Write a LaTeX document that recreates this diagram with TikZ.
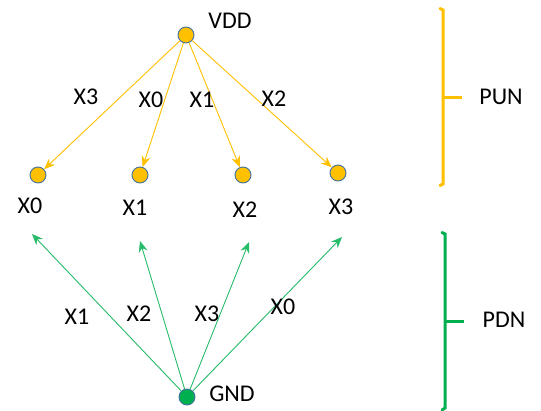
\documentclass[tikz,border=0pt]{standalone}
\usepackage{fontspec}
\setmainfont{Carlito}
\usetikzlibrary{arrows.meta}
\definecolor{punorange}{HTML}{FFC000}
\definecolor{pdngreen}{HTML}{00B050}
\definecolor{rimblue}{HTML}{41719C}
\tikzset{
  lbl/.style={font=\fontsize{24}{28}\selectfont, inner sep=0pt},
  upnode/.style={circle, draw=rimblue, line width=0.9pt, fill=punorange, minimum size=16pt, inner sep=0pt},
  gndnode/.style={circle, draw=rimblue, line width=0.9pt, fill=pdngreen, minimum size=16pt, inner sep=0pt},
  uparrow/.style={draw=punorange, line width=0.9pt, -{Stealth[length=11pt,width=9pt]}},
  dnarrow/.style={draw=pdngreen!85, line width=0.9pt, -{Stealth[length=11pt,width=9pt]}},
  pullup/.style={draw=punorange, line width=3pt},
  pulldown/.style={draw=pdngreen, line width=3pt}
}
\begin{document}
\begin{tikzpicture}[x=1pt,y=-1pt]
\fill[white] (0,0) rectangle (541,410);
\useasboundingbox (0,0) rectangle (541,410);

% supply and ground rails
\node[upnode] (vdd) at (186,35) {};
\node[lbl] (vddl) at (230,21) {VDD};
\node[gndnode] (gnd) at (187,397) {};
\node[lbl] (gndl) at (232,394) {GND};

% output nodes
\node[upnode] (n0) at (38,175) {};
\node[upnode] (n1) at (140,175) {};
\node[upnode] (n2) at (243,175) {};
\node[upnode] (n3) at (338,173) {};
\node[lbl] (n0l) at (30,206) {X0};
\node[lbl] (n1l) at (135,208) {X1};
\node[lbl] (n2l) at (245,210) {X2};
\node[lbl] (n3l) at (341,207) {X3};

% pull-up transistors
\draw[uparrow] (vdd) -- (n0);
\draw[uparrow] (vdd) -- (n1);
\draw[uparrow] (vdd) -- (n2);
\draw[uparrow] (vdd) -- (n3);
\node[lbl] (u3) at (86,97) {X3};
\node[lbl] (u0) at (151,100) {X0};
\node[lbl] (u1) at (202,100) {X1};
\node[lbl] (u2) at (274,99) {X2};

% pull-down transistors
\coordinate (g0) at (32,234);
\coordinate (g1) at (140,241);
\coordinate (g2) at (249,242);
\coordinate (g3) at (342,237);
\draw[dnarrow] (gnd) -- (g0);
\draw[dnarrow] (gnd) -- (g1);
\draw[dnarrow] (gnd) -- (g2);
\draw[dnarrow] (gnd) -- (g3);
\node[lbl] (d1) at (77,317) {X1};
\node[lbl] (d2) at (139,314) {X2};
\node[lbl] (d3) at (207,314) {X3};
\node[lbl] (d0) at (283,307) {X0};

% network brackets
\draw[pullup, line cap=round] (440,8.5) -- (443,10) -- (443,184) -- (440,185.5);
\draw[pullup] (443,97) -- (462,97);
\node[lbl] (pun) at (501,97) {PUN};
\draw[pulldown, line cap=round] (442,232.5) -- (445,234) -- (445,408) -- (442,410);
\draw[pulldown] (445,321) -- (464,321);
\node[lbl] (pdn) at (504,320) {PDN};
\end{tikzpicture}
\end{document}
